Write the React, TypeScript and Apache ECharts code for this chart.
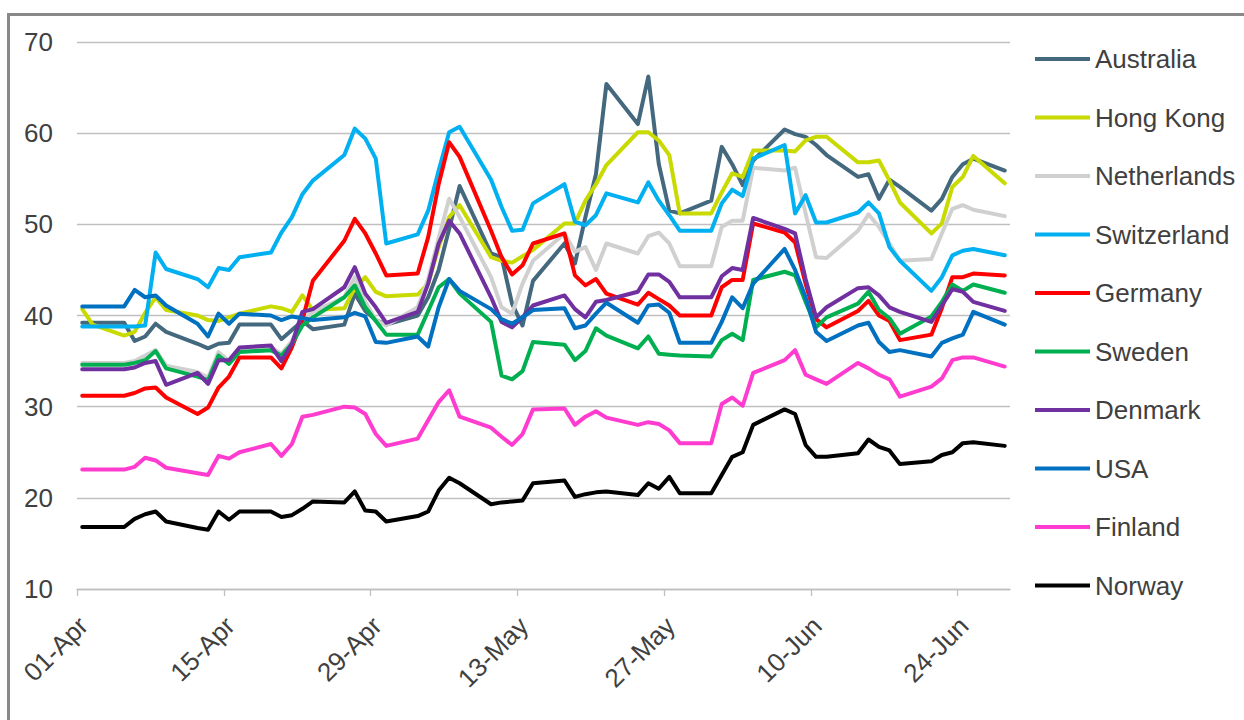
import React, { useEffect, useRef } from 'react';
import * as echarts from 'echarts';

// trading days, counted in days from 01-Apr
const dayOffsets = [
  0, 1,
  4, 5, 6, 7, 8,
  11, 12, 13, 14, 15,
  18, 19, 20, 21, 22,
  25, 26, 27, 28, 29,
  32, 33, 34, 35, 36,
  39, 40, 41, 42, 43,
  46, 47, 48, 49, 50,
  53, 54, 55, 56, 57,
  60, 61, 62, 63, 64,
  67, 68, 69, 70, 71,
  74, 75, 76, 77, 78,
  81, 82, 83, 84, 85,
  88,
];

const tickDays = [0, 14, 28, 42, 56, 70, 84];
const tickLabels = ['01-Apr', '15-Apr', '29-Apr', '13-May', '27-May', '10-Jun', '24-Jun'];

const countries = ['Australia', 'Hong Kong', 'Netherlands', 'Switzerland', 'Germany', 'Sweden', 'Denmark', 'USA', 'Finland', 'Norway'];
const colors = ['#44687D', '#C8DA00', '#D0D0D0', '#00B0F0', '#FF0000', '#00B050', '#7030A0', '#0070C0', '#FF3CCF', '#000000'];

const australia = [
  39.2, 39.2,
  39.2, 37.2, 37.7, 39.1, 38.2,
  36.9, 36.4, 36.9, 37.0, 39.0,
  39.0, 37.4, 38.4, 39.4, 38.5,
  39.0, 42.4, 40.5, 39.5, 39.0,
  40.0, 42.0, 45.0, 49.5, 54.2,
  46.8, 46.4, 41.3, 38.9, 43.8,
  47.9, 45.7, 50.8, 55.5, 65.4,
  61.0, 66.2, 56.6, 51.5, 51.2,
  52.6, 58.5, 56.6, 54.3, 57.0,
  60.4, 59.9, 59.6, 58.7, 57.6,
  55.2, 55.5, 52.8, 54.9, 54.1,
  51.5, 52.8, 55.2, 56.6, 57.2,
  55.9,
];

const hongKong = [
  40.7, 39.0,
  37.8, 38.2, 40.3, 42.0, 40.6,
  40.0, 39.5, 39.4, 39.8, 40.2,
  41.0, 40.8, 40.4, 42.2, 40.6,
  40.8, 43.0, 44.2, 42.6, 42.1,
  42.3, 43.5, 47.5, 50.8, 52.1,
  46.4, 46.0, 45.8, 46.5, 47.2,
  50.1, 50.1, 52.6, 54.4, 56.5,
  60.1, 60.1, 59.2, 57.6, 51.2,
  51.2, 53.5, 55.6, 55.2, 58.1,
  58.1, 58.0, 59.2, 59.6, 59.6,
  56.8, 56.8, 57.0, 54.8, 52.4,
  49.0, 50.1, 54.1, 55.2, 57.5,
  54.5,
];

const netherlands = [
  34.8, 34.8,
  34.8, 35.0, 35.6, 36.2, 34.5,
  33.8, 33.2, 36.0, 35.0, 36.2,
  36.5, 35.8, 37.2, 39.5, 40.4,
  42.0, 44.2, 41.5, 39.5, 38.9,
  40.9, 44.0, 48.5, 52.8, 50.8,
  44.2, 40.9, 40.2, 43.5, 46.0,
  49.0, 47.0, 47.5, 45.0, 47.9,
  46.8, 48.7, 49.1, 47.9, 45.4,
  45.4, 49.7, 50.4, 50.4, 56.2,
  55.9, 56.2, 51.2, 46.4, 46.3,
  49.3, 51.1, 49.7, 47.9, 46.0,
  46.2, 49.0, 51.7, 52.1, 51.6,
  50.9,
];

const switzerland = [
  38.8, 38.8,
  38.8, 38.8, 38.9, 46.9, 45.1,
  44.0, 43.1, 45.2, 45.0, 46.4,
  46.9, 49.1, 50.8, 53.3, 54.8,
  57.6, 60.5, 59.4, 57.2, 47.9,
  48.9, 51.5, 55.9, 60.1, 60.7,
  54.9, 51.9, 49.3, 49.4, 52.3,
  54.4, 50.3, 49.9, 51.0, 53.4,
  52.4, 54.6, 52.6, 51.0, 49.3,
  49.3, 52.3, 53.8, 53.1, 57.2,
  58.7, 51.2, 53.2, 50.2, 50.2,
  51.3, 52.4, 51.2, 47.5, 46.0,
  42.7, 44.2, 46.6, 47.1, 47.3,
  46.6,
];

const germany = [
  31.2, 31.2,
  31.2, 31.5, 32.0, 32.1, 31.0,
  29.2, 29.9, 32.1, 33.3, 35.4,
  35.4, 34.2, 36.5, 39.5, 43.8,
  48.2, 50.6, 49.0, 46.8, 44.4,
  44.6, 48.6, 54.4, 59.0, 57.4,
  49.3, 46.4, 44.5, 45.5, 47.9,
  49.0, 44.4, 43.3, 44.0, 42.4,
  41.2, 42.5, 41.8, 41.1, 40.0,
  40.0, 43.1, 43.9, 43.9, 50.1,
  49.1, 48.0, 43.5, 39.6, 38.7,
  40.5, 41.6, 40.0, 39.4, 37.3,
  37.9, 40.8, 44.2, 44.2, 44.6,
  44.4,
];

const sweden = [
  34.6, 34.6,
  34.6, 34.8, 35.1, 36.1, 34.2,
  33.3, 32.9, 35.6, 34.7, 36.0,
  36.2, 35.6, 36.9, 38.9, 39.8,
  42.0, 43.3, 40.9, 39.4, 37.9,
  37.9, 40.5, 43.1, 44.0, 42.4,
  39.3, 33.4, 33.0, 33.9, 37.1,
  36.8, 35.1, 36.1, 38.6, 37.8,
  36.4, 37.7, 35.8, 35.7, 35.6,
  35.5, 37.3, 38.0, 37.3, 43.9,
  44.8, 44.4, 41.5, 38.7, 39.8,
  41.3, 42.6, 40.6, 39.7, 38.0,
  39.9, 41.5, 43.4, 42.7, 43.4,
  42.5,
];

const denmark = [
  34.1, 34.1,
  34.1, 34.3, 34.8, 35.0, 32.4,
  33.7, 32.5, 35.1, 35.1, 36.5,
  36.7, 35.0, 36.9, 40.4, 40.7,
  43.1, 45.3, 42.4, 40.9, 39.2,
  40.4, 43.5, 47.9, 50.4, 49.0,
  42.0, 39.3, 38.7, 39.8, 41.1,
  42.2, 40.7, 39.8, 41.5, 41.7,
  42.6, 44.5, 44.5, 43.7, 42.0,
  42.0, 44.3, 45.2, 45.0, 50.7,
  49.5, 49.0, 44.0, 39.8, 40.9,
  43.0, 43.1, 42.2, 40.9, 40.4,
  39.3, 41.1, 42.9, 42.6, 41.5,
  40.5,
];

const usa = [
  41.0, 41.0,
  41.0, 42.8, 42.0, 42.2, 41.1,
  39.1, 37.7, 40.2, 39.1, 40.2,
  40.0, 39.5, 39.9, 39.7, 39.5,
  39.8, 40.3, 39.9, 37.1, 37.0,
  37.7, 36.6, 40.9, 44.0, 42.7,
  40.7, 39.6, 39.1, 39.8, 40.6,
  40.8, 38.6, 38.9, 40.2, 41.4,
  39.2, 41.1, 41.2, 40.3, 37.0,
  37.0, 39.3, 42.0, 40.8, 43.5,
  47.3, 45.0, 42.0, 38.2, 37.2,
  38.9, 39.2, 37.1, 36.0, 36.2,
  35.5, 37.0, 37.5, 37.9, 40.4,
  39.0,
];

const finland = [
  23.1, 23.1,
  23.1, 23.4, 24.4, 24.1, 23.3,
  22.7, 22.5, 24.6, 24.3, 25.0,
  25.9, 24.6, 25.9, 28.9, 29.1,
  30.0, 29.9, 29.2, 27.0, 25.7,
  26.5, 28.5, 30.5, 31.8, 28.9,
  27.7, 26.7, 25.8, 27.0, 29.7,
  29.8, 28.0, 28.9, 29.5, 28.8,
  28.0, 28.3, 28.1, 27.4, 26.0,
  26.0, 30.3, 31.0, 30.1, 33.7,
  35.1, 36.2, 33.5, 33.0, 32.5,
  34.8, 34.2, 33.5, 33.0, 31.1,
  32.2, 33.1, 35.1, 35.4, 35.4,
  34.4,
];

const norway = [
  16.8, 16.8,
  16.8, 17.7, 18.2, 18.5, 17.4,
  16.7, 16.5, 18.5, 17.6, 18.5,
  18.5, 17.9, 18.1, 18.8, 19.6,
  19.5, 20.7, 18.6, 18.5, 17.4,
  18.0, 18.5, 20.8, 22.2, 21.6,
  19.3, 19.5, 19.6, 19.7, 21.6,
  21.9, 20.1, 20.4, 20.6, 20.7,
  20.3, 21.6, 21.0, 22.3, 20.5,
  20.5, 22.5, 24.5, 25.0, 28.0,
  29.7, 29.2, 25.8, 24.5, 24.5,
  24.9, 26.4, 25.6, 25.2, 23.7,
  24.0, 24.7, 25.0, 26.0, 26.1,
  25.7,
];

const seriesValues = [australia, hongKong, netherlands, switzerland, germany, sweden, denmark, usa, finland, norway];

const font = "Arial, 'Liberation Sans', sans-serif";

export default function App() {
  const ref = useRef<HTMLDivElement>(null);

  useEffect(() => {
    if (!ref.current) return;
    const chart = echarts.init(ref.current, null, { renderer: 'svg' });
    chart.setOption({
      animation: false,
      backgroundColor: 'transparent',
      grid: { left: 77, right: 234, top: 42, bottom: 131 },
      legend: {
        orient: 'vertical',
        left: 1035,
        top: 44,
        padding: 0,
        icon: 'rect',
        itemWidth: 55,
        itemHeight: 4,
        itemGap: 28.5,
        selectedMode: false,
        data: countries,
        textStyle: { color: '#404040', fontSize: 26, fontFamily: font, lineHeight: 30 },
      },
      xAxis: {
        type: 'value',
        min: 0,
        max: 89,
        interval: 14,
        splitLine: { show: false },
        axisLine: { show: true, lineStyle: { color: '#BFBFBF', width: 1.3 } },
        axisTick: { show: true, length: 7, customValues: tickDays, lineStyle: { color: '#BFBFBF', width: 1.3 } },
        axisLabel: {
          customValues: tickDays,
          rotate: 45,
          margin: 26,
          verticalAlign: 'top',
          lineHeight: 18,
          color: '#404040',
          fontSize: 26,
          fontFamily: font,
          formatter: (v: number) => {
            const i = tickDays.indexOf(v);
            return i >= 0 ? tickLabels[i] : '';
          },
        },
      },
      yAxis: {
        type: 'value',
        min: 10,
        max: 70,
        interval: 10,
        axisLine: { show: false },
        axisTick: { show: false },
        splitLine: { lineStyle: { color: '#C0C0C0', width: 1.3 } },
        axisLabel: { margin: 24, color: '#404040', fontSize: 26, fontFamily: font },
      },
      series: countries.map((name, k) => ({
        name,
        type: 'line',
        showSymbol: false,
        symbol: 'none',
        color: colors[k],
        lineStyle: { width: 4, color: colors[k], join: 'round', cap: 'round' },
        data: dayOffsets.map((d, i) => [d + 0.5, seriesValues[k][i]]),
      })),
    });
    return () => chart.dispose();
  }, []);

  return (
    <>
      <div
        style={{
          position: 'absolute',
          left: 7,
          top: 12.5,
          width: 1244,
          height: 720,
          borderTop: '3px solid #898989',
          borderLeft: '3px solid #898989',
        }}
      />
      <div ref={ref} style={{ position: 'absolute', left: 0, top: 0, width: 1244, height: 720 }} />
    </>
  );
}
